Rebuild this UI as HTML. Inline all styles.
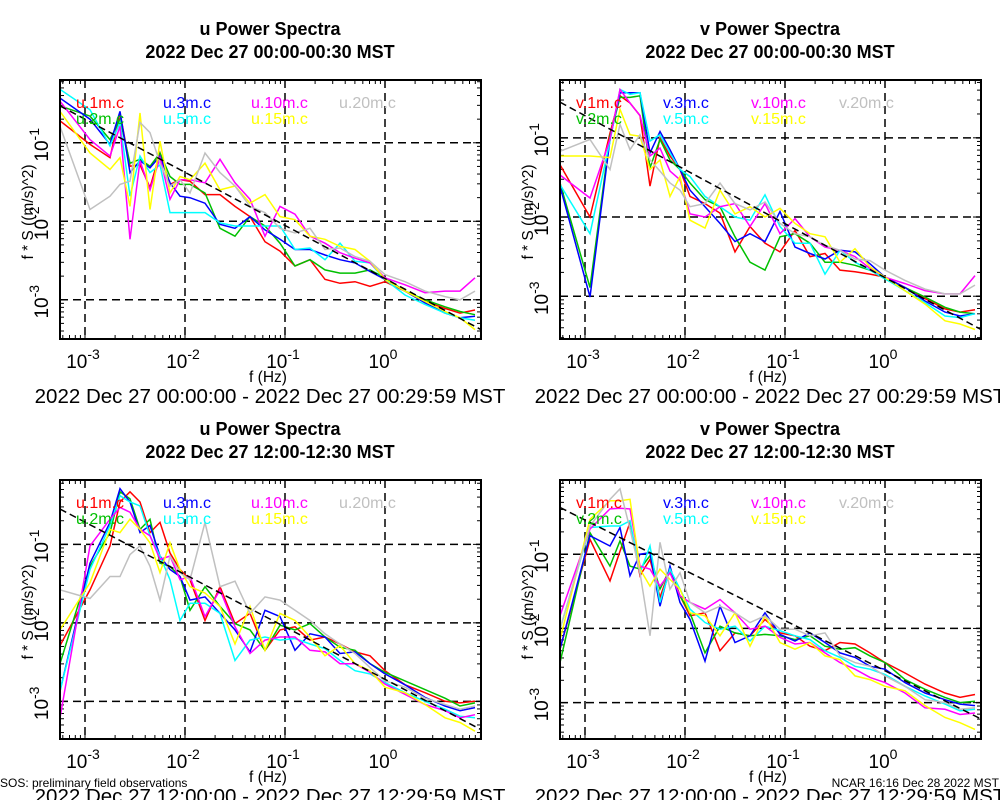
<!DOCTYPE html>
<html><head><meta charset="utf-8"><title>Power Spectra</title>
<style>
html,body{margin:0;padding:0;background:#fff;}
svg{display:block;font-family:"Liberation Sans",sans-serif;}
</style></head>
<body>
<svg id="chart" width="1000" height="800" viewBox="0 0 1000 800" xmlns="http://www.w3.org/2000/svg">
<rect width="1000" height="800" fill="#fff"/>
<text x="0" y="787" font-size="12">SOS: preliminary field observations</text>
<text x="999" y="787" font-size="12" text-anchor="end">NCAR 16:16 Dec 28 2022 MST</text>
</svg>
<script>
// shared frequency grid, log10(Hz)
const freqLog = [-3.25,-2.95,-2.75,-2.65,-2.55,-2.45,-2.35,-2.25,-2.15,-2.05,-1.95,-1.8,-1.65,-1.5,-1.35,-1.2,-1.05,-0.9,-0.75,-0.6,-0.45,-0.3,-0.15,0,0.2,0.4,0.6,0.75,0.9];
const seriesColors = ['#ff0000','#00c000','#0000ff','#00ffff','#ff00ff','#ffff00','#c0c0c0'];
const heightNames = ['1m','2m','3m','5m','10m','15m','20m'];
const xTickLogs = [-3,-2,-1,0];
const yTickLogs = [-1,-2,-3];

// log10(f*S) values — panel 1: u 00:00
const p1_1m = [-0.72,-1.02,-1.19,-0.62,-1.3,-1.28,-1.57,-1.13,-1.53,-1.47,-1.49,-1.66,-1.66,-1.81,-1.94,-2.26,-2.38,-2.57,-2.49,-2.74,-2.79,-2.77,-2.83,-2.77,-2.89,-3.02,-3.11,-3.17,-3.13];
const p1_2m = [-0.53,-0.66,-0.96,-0.7,-1.26,-1.21,-1.3,-1.13,-1.43,-1.53,-1.53,-1.64,-2.09,-2.19,-1.94,-2.06,-2.28,-2.57,-2.49,-2.62,-2.66,-2.66,-2.62,-2.72,-2.89,-3.0,-3.09,-3.15,-3.19];
const p1_3m = [-0.43,-0.7,-1.02,-0.6,-1.38,-1.23,-1.32,-1.17,-1.51,-1.68,-1.7,-1.77,-2.04,-2.09,-1.94,-2.11,-2.23,-2.36,-2.36,-2.43,-2.49,-2.53,-2.64,-2.74,-2.89,-3.04,-3.17,-3.23,-3.21];
const p1_5m = [-0.32,-0.58,-1.04,-0.74,-1.68,-1.17,-1.38,-1.28,-1.89,-1.89,-1.89,-1.89,-2.02,-2.06,-2.06,-2.06,-2.06,-2.36,-2.34,-2.49,-2.28,-2.51,-2.53,-2.74,-2.94,-3.06,-3.17,-3.23,-3.26];
const p1_10m = [-0.47,-0.96,-1.17,-0.79,-2.23,-1.23,-1.6,-1.19,-1.72,-1.47,-1.47,-1.51,-1.21,-1.51,-1.72,-2.19,-1.81,-1.91,-2.19,-2.28,-2.4,-2.47,-2.53,-2.72,-2.81,-2.91,-2.89,-2.89,-2.72];
const p1_15m = [-0.6,-1.13,-1.34,-1.19,-1.81,-0.62,-1.85,-0.98,-1.64,-1.43,-1.47,-1.26,-1.6,-1.55,-1.77,-1.66,-1.94,-1.98,-2.19,-2.23,-2.32,-2.36,-2.51,-2.74,-2.89,-3.02,-3.15,-3.23,-3.38];
const p1_20m = [-0.79,-1.85,-1.68,-1.53,-1.49,-0.74,-0.87,-1.26,-1.55,-1.47,-1.64,-1.13,-1.38,-1.55,-1.81,-1.89,-2.09,-2.15,-2.09,-2.36,-2.34,-2.45,-2.51,-2.68,-2.77,-2.89,-2.96,-3.0,-2.89];
const p1_fitX = [-3.25,0.96];
const p1_fitY = [-0.53,-3.38];

// panel 2: v 00:00
const p2_1m = [-1.34,-2.0,-0.94,-0.47,-0.56,-0.72,-1.61,-1.0,-1.23,-1.4,-1.74,-1.83,-1.95,-2.44,-2.12,-2.33,-2.44,-2.17,-2.5,-2.46,-2.67,-2.69,-2.72,-2.76,-2.89,-3.03,-3.16,-3.2,-3.17];
const p2_2m = [-1.57,-2.89,-0.98,-0.49,-0.49,-0.47,-1.38,-1.02,-1.28,-1.4,-1.57,-1.78,-1.87,-2.25,-2.57,-2.67,-2.25,-2.21,-2.33,-2.57,-2.57,-2.61,-2.67,-2.78,-2.89,-3.01,-3.14,-3.2,-3.22];
const p2_3m = [-1.61,-3.01,-1.02,-0.43,-0.43,-0.43,-1.19,-0.92,-1.15,-1.4,-1.66,-1.87,-2.08,-2.31,-2.21,-2.31,-1.93,-2.38,-2.46,-2.53,-2.42,-2.44,-2.59,-2.76,-2.89,-3.06,-3.2,-3.25,-3.22];
const p2_5m = [-1.59,-2.21,-1.04,-0.39,-0.45,-0.43,-1.04,-0.96,-1.19,-1.4,-1.49,-1.74,-1.87,-2.0,-2.04,-1.72,-2.12,-2.33,-2.33,-2.72,-2.42,-2.57,-2.67,-2.78,-2.93,-3.08,-3.25,-3.27,-3.22];
const p2_10m = [-1.47,-1.76,-1.02,-0.39,-0.56,-0.72,-1.23,-1.13,-1.42,-1.53,-1.96,-2.0,-1.87,-1.83,-2.12,-1.83,-2.21,-2.02,-2.25,-2.38,-2.42,-2.5,-2.65,-2.76,-2.84,-2.93,-2.97,-2.97,-2.74];
const p2_15m = [-1.23,-1.23,-1.25,-0.64,-0.96,-0.98,-1.4,-1.28,-1.74,-1.49,-2.04,-2.14,-1.66,-1.96,-1.87,-2.0,-1.89,-2.08,-2.21,-2.25,-2.57,-2.4,-2.63,-2.76,-2.93,-3.1,-3.31,-3.35,-3.42];
const p2_20m = [-1.17,-1.02,-1.4,-0.83,-1.15,-0.96,-1.28,-1.42,-1.57,-1.66,-1.87,-1.83,-1.57,-1.83,-1.91,-1.81,-2.08,-2.21,-2.25,-2.36,-2.42,-2.53,-2.55,-2.67,-2.8,-2.91,-2.97,-2.97,-2.86];
const p2_fitX = [-3.25,0.96];
const p2_fitY = [-0.55,-3.42];

// panel 3: u 12:00
const p3_1m = [-2.29,-1.58,-1.02,-0.46,-0.33,-0.46,-0.85,-0.72,-1.11,-1.32,-1.45,-1.97,-1.54,-2.01,-1.88,-2.35,-2.09,-2.05,-2.22,-2.18,-2.27,-2.37,-2.42,-2.61,-2.79,-2.89,-3.0,-3.02,-3.0];
const p3_2m = [-2.52,-1.28,-0.85,-0.33,-0.42,-0.81,-0.68,-1.24,-1.28,-1.41,-1.84,-1.54,-1.79,-2.01,-2.09,-2.35,-2.03,-2.09,-2.01,-2.18,-2.31,-2.35,-2.52,-2.63,-2.74,-2.85,-2.96,-3.06,-3.02];
const p3_3m = [-2.87,-1.24,-0.72,-0.29,-0.46,-0.85,-0.76,-1.15,-1.32,-1.41,-1.71,-1.67,-1.88,-2.09,-2.37,-1.84,-1.92,-2.35,-2.14,-2.18,-2.39,-2.37,-2.52,-2.65,-2.79,-2.95,-3.06,-3.12,-3.08];
const p3_5m = [-2.87,-1.32,-0.76,-0.38,-0.46,-0.51,-0.89,-1.15,-1.45,-1.97,-1.75,-1.75,-1.88,-2.48,-2.22,-2.18,-2.22,-2.2,-2.27,-2.33,-2.48,-2.61,-2.65,-2.76,-2.89,-3.0,-3.1,-3.19,-3.21];
const p3_10m = [-3.21,-1.02,-0.68,-0.53,-0.59,-0.81,-0.89,-1.19,-1.15,-1.45,-1.41,-1.92,-1.58,-2.05,-2.39,-2.22,-2.18,-2.18,-2.35,-2.37,-2.52,-2.52,-2.63,-2.78,-2.91,-3.04,-3.12,-3.21,-3.17];
const p3_15m = [-2.09,-1.49,-0.81,-0.85,-0.68,-0.81,-0.98,-1.36,-0.98,-1.32,-1.54,-1.62,-1.79,-2.27,-1.79,-2.35,-1.88,-1.97,-2.18,-2.42,-2.29,-2.52,-2.61,-2.82,-2.89,-3.04,-3.21,-3.27,-3.38];
const p3_20m = [-1.58,-1.69,-1.41,-1.41,-1.13,-1.02,-1.28,-1.71,-1.15,-1.36,-1.45,-0.72,-1.54,-1.47,-1.88,-1.67,-1.71,-1.84,-1.97,-2.14,-2.27,-2.39,-2.57,-2.74,-2.82,-2.96,-3.04,-3.1,-3.06];
const p3_fitX = [-3.25,0.96];
const p3_fitY = [-0.55,-3.36];

// panel 4: v 12:00
const p4_1m = [-2.28,-0.8,-1.36,-0.96,-0.57,-1.29,-1.07,-1.58,-1.2,-1.56,-1.83,-1.79,-2.3,-2.06,-2.1,-1.88,-2.06,-2.1,-2.24,-2.3,-2.19,-2.21,-2.33,-2.46,-2.6,-2.75,-2.87,-2.93,-2.89];
const p4_2m = [-2.46,-0.71,-1.16,-0.82,-1.16,-1.2,-1.02,-1.47,-1.2,-1.56,-1.79,-2.33,-1.97,-2.06,-2.1,-2.08,-2.1,-2.15,-2.1,-2.24,-2.28,-2.26,-2.37,-2.46,-2.69,-2.82,-2.93,-3.0,-2.98];
const p4_3m = [-2.28,-0.75,-0.89,-0.64,-1.29,-1.0,-0.98,-1.7,-1.16,-1.65,-1.88,-2.44,-1.7,-2.19,-2.1,-1.79,-2.08,-2.17,-2.06,-2.19,-2.33,-2.39,-2.51,-2.55,-2.73,-2.87,-2.96,-3.02,-3.04];
const p4_5m = [-2.01,-0.64,-0.62,-0.62,-0.55,-1.25,-0.89,-1.65,-1.2,-1.47,-1.74,-1.92,-2.01,-1.97,-2.17,-1.97,-2.03,-2.1,-2.15,-2.3,-2.39,-2.51,-2.55,-2.62,-2.78,-2.91,-3.02,-3.11,-3.09];
const p4_10m = [-1.83,-0.66,-0.39,-0.38,-0.39,-1.16,-1.2,-1.43,-1.25,-1.56,-1.65,-1.74,-1.61,-1.79,-2.01,-1.97,-2.12,-2.21,-2.19,-2.33,-2.46,-2.55,-2.66,-2.73,-2.87,-3.07,-3.09,-3.16,-3.14];
const p4_15m = [-2.15,-0.53,-0.28,-0.28,-0.26,-1.2,-1.43,-1.2,-1.34,-1.47,-1.79,-1.83,-2.1,-1.79,-2.24,-1.83,-2.19,-2.28,-2.19,-2.37,-2.42,-2.64,-2.69,-2.78,-2.84,-3.04,-3.2,-3.27,-3.36];
const p4_20m = [-2.01,-0.62,-0.26,-0.12,-0.66,-1.25,-2.1,-0.84,-1.47,-1.25,-1.65,-1.79,-1.7,-1.79,-1.92,-1.83,-2.01,-2.01,-2.1,-2.06,-2.37,-2.46,-2.51,-2.64,-2.78,-2.96,-3.0,-3.09,-3.07];
const p4_fitX = [-3.25,0.96];
const p4_fitY = [-0.37,-3.22];

const NS = 'http://www.w3.org/2000/svg';
const svg = document.getElementById('chart');
function mk(tag, attrs, parent){
  const e = document.createElementNS(NS, tag);
  for (const k in attrs) e.setAttribute(k, attrs[k]);
  (parent||svg).appendChild(e);
  return e;
}

const panels = [
  {var:'u', ox:0, oy:0, time:'00:00-00:30', range:'2022 Dec 27 00:00:00 - 2022 Dec 27 00:29:59 MST', yTop:-0.2, yBot:-3.5, series:[p1_1m,p1_2m,p1_3m,p1_5m,p1_10m,p1_15m,p1_20m], fitX:p1_fitX, fitY:p1_fitY},
  {var:'v', ox:500, oy:0, time:'00:00-00:30', range:'2022 Dec 27 00:00:00 - 2022 Dec 27 00:29:59 MST', yTop:-0.27, yBot:-3.54, series:[p2_1m,p2_2m,p2_3m,p2_5m,p2_10m,p2_15m,p2_20m], fitX:p2_fitX, fitY:p2_fitY},
  {var:'u', ox:0, oy:400, time:'12:00-12:30', range:'2022 Dec 27 12:00:00 - 2022 Dec 27 12:29:59 MST', yTop:-0.18, yBot:-3.48, series:[p3_1m,p3_2m,p3_3m,p3_5m,p3_10m,p3_15m,p3_20m], fitX:p3_fitX, fitY:p3_fitY},
  {var:'v', ox:500, oy:400, time:'12:00-12:30', range:'2022 Dec 27 12:00:00 - 2022 Dec 27 12:29:59 MST', yTop:0.0, yBot:-3.49, series:[p4_1m,p4_2m,p4_3m,p4_5m,p4_10m,p4_15m,p4_20m], fitX:p4_fitX, fitY:p4_fitY}
];
const seriesOrder = [0,1,2,3,4,5,6];
panels.forEach((p, pi) => {
  const L = p.ox+60, R = p.ox+481, T = p.oy+80, B = p.oy+339;
  const xMin = -3.25, xMax = 0.96;
  const xs = lf => L + (lf - xMin) / (xMax - xMin) * (R - L);
  const ys = lv => T + (p.yTop - lv) / (p.yTop - p.yBot) * (B - T);
  const g = mk('g', {});
  
  
  const cx = p.ox + 270;
  const t1 = mk('text', {x:cx, y:p.oy+35, 'font-size':18, 'font-weight':'bold', 'text-anchor':'middle'}, g);
  t1.textContent = p.var + ' Power Spectra';
  
  
  const t2 = mk('text', {x:cx, y:p.oy+58, 'font-size':18, 'font-weight':'bold', 'text-anchor':'middle'}, g);
  t2.textContent = '2022 Dec 27 ' + p.time + ' MST';
  
  

  const clipId = 'clip' + pi;
  const cp = mk('clipPath', {id:clipId}, g);
  mk('rect', {x:L, y:T, width:R-L, height:B-T}, cp);

  xTickLogs.forEach(v => {
    const gl = mk('line', {x1:xs(v), x2:xs(v), y1:T, y2:B, stroke:'#000', 'stroke-width':1.5, 'stroke-dasharray':'8,5'}, g);
    
    
    const tl = mk('text', {x:xs(v)-2, y:B+29, 'font-size':19, 'text-anchor':'middle'}, g);
    
    
    const a = mk('tspan', {}, tl); a.textContent = '10';
    const b = mk('tspan', {dy:-9, 'font-size':14}, tl); b.textContent = String(v);
  });
  yTickLogs.forEach(v => {
    const gl = mk('line', {x1:L, x2:R, y1:ys(v), y2:ys(v), stroke:'#000', 'stroke-width':1.5, 'stroke-dasharray':'8,5'}, g);
    
    
    const tl = mk('text', {x:0, y:0, 'font-size':19, 'text-anchor':'middle', transform:'translate(' + (L-12) + ',' + (ys(v)+2) + ') rotate(-90)'}, g);
    
    
    const a = mk('tspan', {}, tl); a.textContent = '10';
    const b = mk('tspan', {dy:-9, 'font-size':14}, tl); b.textContent = String(v);
  });
  for (let d = -4; d <= 1; d++) for (let m = 1; m <= 9; m++) {
    const lx = d + Math.log10(m);
    if (lx > xMin && lx < xMax) {
      const len = m === 1 ? 8 : 4;
      mk('line', {x1:xs(lx), x2:xs(lx), y1:B, y2:B-len, stroke:'#000'}, g);
      mk('line', {x1:xs(lx), x2:xs(lx), y1:T, y2:T+len, stroke:'#000'}, g);
    }
    if (lx < p.yTop && lx > p.yBot) {
      const len = m === 1 ? 8 : 4;
      mk('line', {x1:L, x2:L+len, y1:ys(lx), y2:ys(lx), stroke:'#000'}, g);
      mk('line', {x1:R, x2:R-len, y1:ys(lx), y2:ys(lx), stroke:'#000'}, g);
    }
  }

  seriesOrder.forEach(si => {
    const vals = p.series[si];
    const pts = freqLog.map((f, i) => xs(f).toFixed(1) + ',' + ys(vals[i]).toFixed(1)).join(' ');
    const pl = mk('polyline', {points:pts, fill:'none', stroke:seriesColors[si], 'stroke-width':1.5, 'clip-path':'url(#' + clipId + ')'}, g);
    
    
  });
  const fit = mk('line', {x1:xs(p.fitX[0]), y1:ys(p.fitY[0]), x2:xs(p.fitX[1]), y2:ys(p.fitY[1]), stroke:'#000', 'stroke-width':1.5, 'stroke-dasharray':'7,4', 'clip-path':'url(#' + clipId + ')'}, g);
  
  

  const cols = [[0,1],[2,3],[4,5],[6,null]];
  const colX = [76, 163, 251, 339];
  cols.forEach((c, ci) => {
    c.forEach((si, ri) => {
      if (si === null) return;
      const lt = mk('text', {x:p.ox+colX[ci], y:p.oy+108+ri*16, 'font-size':16, fill:seriesColors[si]}, g);
      lt.textContent = p.var + '.' + heightNames[si] + '.c';
      
      
    });
  });

  const frame = mk('rect', {x:L, y:T, width:R-L, height:B-T, fill:'none', stroke:'#000', 'stroke-width':2}, g);
  
  

  const xl = mk('text', {x:p.ox+268, y:p.oy+382, 'font-size':15.5, 'text-anchor':'middle'}, g);
  xl.textContent = 'f (Hz)';
  
  
  const yl = mk('text', {x:0, y:0, 'font-size':15.5, 'text-anchor':'middle', transform:'translate(' + (p.ox+33) + ',' + (p.oy+212) + ') rotate(-90)'}, g);
  yl.textContent = 'f * S ((m/s)^2)';
  
  
  const dr = mk('text', {x:p.ox+270, y:p.oy+403, 'font-size':20.5, 'text-anchor':'middle'}, g);
  dr.textContent = p.range;
  
  
});
</script>
</body></html>
